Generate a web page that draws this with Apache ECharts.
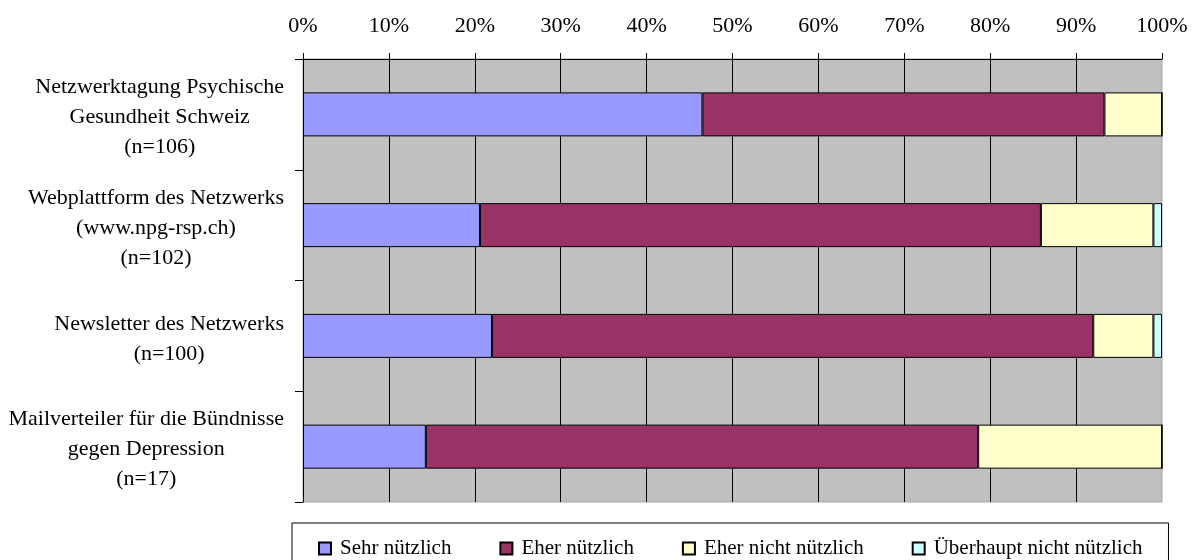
<!DOCTYPE html>
<html>
<head>
<meta charset="utf-8">
<script src="https://cdn.jsdelivr.net/npm/echarts@6/dist/echarts.min.js"></script>
<style>
html,body{margin:0;padding:0;background:#fff;}
#chart{width:1197px;height:560px;}
</style>
</head>
<body>
<div id="chart"></div>
<script>
var categories = [
  'Netzwerktagung Psychische\nGesundheit Schweiz\n(n=106)',
  'Webplattform des Netzwerks\n(www.npg-rsp.ch)\n(n=102)',
  'Newsletter des Netzwerks\n(n=100)',
  'Mailverteiler für die Bündnisse\ngegen Depression\n(n=17)'
];
var seriesNames = ['Sehr nützlich', 'Eher nützlich', 'Eher nicht nützlich', 'Überhaupt nicht nützlich'];
var sehrNuetzlich = [46.5, 20.6, 22, 14.3];
var eherNuetzlich = [46.8, 65.3, 70, 64.3];
var eherNichtNuetzlich = [6.7, 13.1, 7, 21.4];
var ueberhauptNicht = [0, 1.0, 1, 0];
var xTicks = {min: 0, max: 100, interval: 10};
var colors = ['#9999FF', '#993366', '#FFFFCC', '#CCFFFF'];

var FONT = 'Liberation Serif';
var allData = [sehrNuetzlich, eherNuetzlich, eherNichtNuetzlich, ueberhauptNicht];

var chart = echarts.init(document.getElementById('chart'));
chart.setOption({
  animation: false,
  textStyle: {fontFamily: FONT, color: '#000'},
  grid: {
    left: 303, right: 35, top: 59, bottom: 58,
    show: true, backgroundColor: '#C0C0C0', borderColor: '#A8A8A8', borderWidth: 1
  },
  legend: {
    left: 292, top: 523,
    data: seriesNames,
    icon: 'rect',
    itemWidth: 12, itemHeight: 12,
    itemGap: 48,
    padding: [15, 26, 17, 26],
    borderColor: '#000', borderWidth: 1,
    textStyle: {fontFamily: FONT, fontSize: 21, color: '#000', padding: [0, 0, 0, 4]}
  },
  xAxis: {
    type: 'value',
    position: 'top',
    min: xTicks.min, max: xTicks.max, interval: xTicks.interval,
    axisLine: {show: true, lineStyle: {color: '#000', width: 1}},
    axisTick: {show: true, length: 6, lineStyle: {color: '#000'}},
    axisLabel: {formatter: '{value}%', fontFamily: FONT, fontSize: 22, color: '#000', margin: 22},
    splitLine: {show: true, showMaxLine: false, lineStyle: {color: '#000', width: 1}}
  },
  yAxis: {
    type: 'category',
    inverse: true,
    data: categories,
    axisLine: {show: true, lineStyle: {color: '#000', width: 1}},
    axisTick: {show: true, length: 8, lineStyle: {color: '#000'}},
    axisLabel: {
      margin: 19,
      align: 'right',
      padding: [6, 0, 0, 0],
      formatter: function (v) {
        return v.split('\n').map(function (l) { return '{c|' + l + '}'; }).join('\n');
      },
      rich: {c: {fontFamily: FONT, fontSize: 22, color: '#000', align: 'center', lineHeight: 30}}
    },
    splitLine: {show: false}
  },
  series: seriesNames.map(function (name, i) {
    return {
      name: name,
      type: 'bar',
      stack: 'total',
      barWidth: 44,
      data: allData[i],
      itemStyle: {color: colors[i], borderColor: '#000', borderWidth: 1}
    };
  })
});
</script>
</body>
</html>
